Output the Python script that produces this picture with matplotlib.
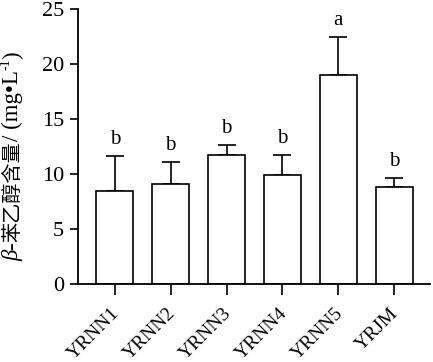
import numpy as np
import matplotlib
matplotlib.use('Agg')
import matplotlib.pyplot as plt

plt.rcParams['font.family'] = ['Liberation Serif', 'Noto Sans CJK SC', 'DejaVu Sans']

strains = ['YRNN1', 'YRNN2', 'YRNN3', 'YRNN4', 'YRNN5', 'YRJM']
values = [8.45, 9.1, 11.7, 9.95, 19.0, 8.85]
errors = [3.2, 2.0, 1.0, 1.83, 3.5, 0.82]
letters = ['b', 'b', 'b', 'b', 'a', 'b']

W, H = 433, 362
fig = plt.figure(figsize=(W / 100, H / 100), dpi=100)
ax = fig.add_axes([0.18, 0.2155, 0.813, 0.7585])

x = np.arange(len(strains))
ax.bar(x, values, width=0.66, color='white', edgecolor='black', linewidth=1.2, zorder=2)
ax.errorbar(x, values, yerr=[np.zeros(len(x)), errors], fmt='none', ecolor='black',
            elinewidth=1.2, capsize=6.5, capthick=1.2, zorder=1)
for xi, v, e, t in zip(x, values, errors, letters):
    ax.annotate(t, (xi, v + e), xytext=(0, 5), textcoords='offset points',
                ha='center', va='bottom', fontsize=15)

ax.set_xlim(-0.66, 5.64)
ax.set_ylim(0, 25)
ax.set_yticks([0, 5, 10, 15, 20, 25])
ax.set_xticks(x)
ax.set_xticklabels([])
# rotated strain names, placed by hand so the top-right corner sits under the tick
for xi, name in zip(x, strains):
    ax.annotate(name, (xi, 0), xycoords=('data', 'axes fraction'),
                xytext=(-3, -15), textcoords='offset points',
                rotation=45, rotation_mode='anchor', ha='right', va='top',
                fontsize=14, annotation_clip=False)
ax.tick_params(axis='y', direction='out', length=6, width=1.2, labelsize=16, pad=4)
ax.tick_params(axis='x', direction='out', length=8, width=1.2)
for s in ['top', 'right']:
    ax.spines[s].set_visible(False)
for s in ['left', 'bottom']:
    ax.spines[s].set_linewidth(1.3)

# y label built from pieces (italic beta, Chinese, superscript)
pieces = [
    ('β', dict(fontsize=16.5, style='italic'), 0),
    ('-', dict(fontsize=16.5), 0),
    ('苯乙醇含量', dict(fontsize=14.5, family=['Noto Sans CJK SC']), 0),
    ('/ (mg•L', dict(fontsize=16.5), 0),
    ('-1', dict(fontsize=10), -8),
    (')', dict(fontsize=16.5), 0),
]
renderer = fig.canvas.get_renderer()
base_x = 18
pos = 362 - 261
for s, kw, dx in pieces:
    t = fig.text((base_x + dx) / W, pos / H, s, rotation=90, rotation_mode='anchor',
                 ha='left', va='baseline', **kw)
    pos += t.get_window_extent(renderer).height

fig.savefig('out.png', dpi=100)
